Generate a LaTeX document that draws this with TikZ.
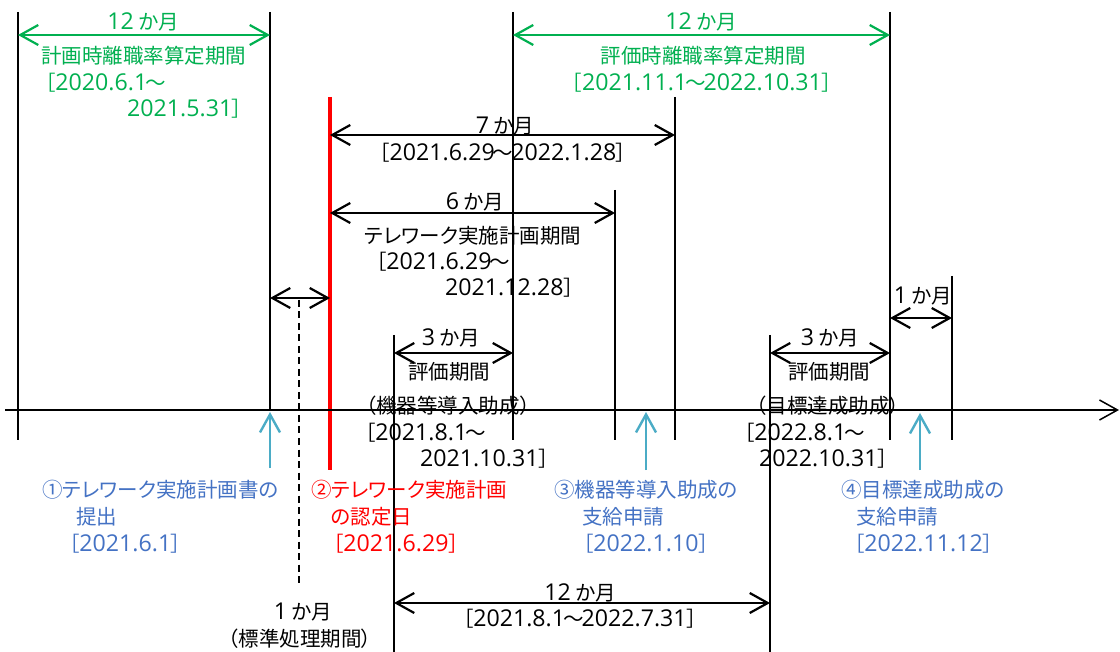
\documentclass[tikz,border=0pt]{standalone}
\usepackage{fontspec}
\setmainfont{Noto Sans CJK JP}[CharacterWidth=AlternateProportional]
\newfontfamily\dgfont{Open Sans}[Scale=1.13]
\newcommand\dgt[1]{{\dgfont #1}}
\newcommand\tld{\kern-2pt～\kern-2pt}
\usetikzlibrary{arrows.meta}
\definecolor{grn}{HTML}{00B050}
\definecolor{blu}{HTML}{4472C4}
\definecolor{tealarr}{HTML}{4BACC6}
\definecolor{rd}{HTML}{FF0000}
\begin{document}
\begin{tikzpicture}[x=1pt,y=-1pt,
  vline/.style={line width=1.8pt},
  barb/.tip={Straight Barb[length=18pt,width=20pt]},
  dbl/.style={line width=2.2pt,barb-barb},
  upar/.style={line width=2.4pt,tealarr,-barb},
  txt/.style={inner sep=0pt,font=\fontsize{20.5}{24}\selectfont},
  lt/.style={txt,anchor=west}]
\fill[white] (0,0) rectangle (1120,652);
\useasboundingbox (0,0) rectangle (1120,652);

% vertical lines
\coordinate (v0t) at (18,12);  \coordinate (v0b) at (18,440);
\coordinate (v1t) at (270,12); \coordinate (v1b) at (270,410);
\coordinate (v2t) at (513,12); \coordinate (v2b) at (513,440);
\coordinate (v3t) at (675,97); \coordinate (v3b) at (675,440);
\coordinate (v4t) at (615,190); \coordinate (v4b) at (615,440);
\coordinate (v5t) at (890,12); \coordinate (v5b) at (890,440);
\coordinate (v6t) at (952,276); \coordinate (v6b) at (952,440);
\coordinate (v7t) at (394,335); \coordinate (v7b) at (394,652);
\coordinate (v8t) at (770,335); \coordinate (v8b) at (770,652);
\coordinate (rt) at (330,97);  \coordinate (rb) at (330,470);
\coordinate (dt) at (299,300); \coordinate (db) at (299,587);

\draw[vline] (v0t) -- (v0b);
\draw[vline] (v1t) -- (v1b);
\draw[vline] (v2t) -- (v2b);
\draw[vline] (v3t) -- (v3b);
\draw[line width=2.3pt] (v4t) -- (v4b);
\draw[vline] (v5t) -- (v5b);
\draw[vline] (v6t) -- (v6b);
\draw[vline] (v7t) -- (v7b);
\draw[vline] (v8t) -- (v8b);
\draw[line width=3.3pt,rd] (rt) -- (rb);
\draw[line width=1.8pt,dash pattern=on 7pt off 4.5pt] (dt) -- (db);

% axis
\coordinate (ax0) at (5,410); \coordinate (ax1) at (1119,410);
\draw[line width=1.5pt,-barb] (ax0) -- (ax1);

% double arrows
\coordinate (g1a) at (18,35);  \coordinate (g1b) at (270,35);
\coordinate (g2a) at (513,35); \coordinate (g2b) at (890,35);
\coordinate (a7a) at (330,135); \coordinate (a7b) at (675,135);
\coordinate (a6a) at (330,213); \coordinate (a6b) at (615,213);
\coordinate (a1a) at (270,298); \coordinate (a1b) at (330,298);
\coordinate (a1ca) at (890,318); \coordinate (a1cb) at (952,318);
\coordinate (a3a) at (394,353); \coordinate (a3b) at (513,353);
\coordinate (a3ca) at (770,353); \coordinate (a3cb) at (890,353);
\coordinate (a12a) at (394,603); \coordinate (a12b) at (770,603);
\draw[dbl,grn] (g1a) -- (g1b);
\draw[dbl,grn] (g2a) -- (g2b);
\draw[dbl] (a7a) -- (a7b);
\draw[dbl] (a6a) -- (a6b);
\draw[dbl] (a1a) -- (a1b);
\draw[dbl] (a1ca) -- (a1cb);
\draw[dbl] (a3a) -- (a3b);
\draw[dbl] (a3ca) -- (a3cb);
\draw[dbl] (a12a) -- (a12b);

% teal up arrows
\coordinate (u1b) at (270,468); \coordinate (u1t) at (270,412);
\coordinate (u2b) at (646,470); \coordinate (u2t) at (646,412);
\coordinate (u3b) at (920,470); \coordinate (u3t) at (920,413);
\draw[upar] (u1b) -- (u1t);
\draw[upar] (u2b) -- (u2t);
\draw[upar] (u3b) -- (u3t);

% green texts
\node[txt,grn] (g12a) at (143,22) {\dgt{12} か月};
\node[txt,grn] (gt1) at (144,56) {計画時離職率算定期間};
\node[lt,grn] (gd1) at (45,83) {［\dgt{2020.6.1}\tld};
\node[lt,grn] (gd2) at (127,109) {\dgt{2021.5.31}］};
\node[txt,grn] (g12b) at (701,22) {\dgt{12} か月};
\node[txt,grn] (gt2) at (703,56) {評価時離職率算定期間};
\node[txt,grn] (gd3) at (702,83) {［\dgt{2021.11.1}\tld\dgt{2022.10.31}］};

% black texts
\node[txt] (m7) at (505,126) {\dgt{7} か月};
\node[txt] (d7) at (503,153) {［\dgt{2021.6.29}\tld\dgt{2022.1.28}］};
\node[txt] (m6) at (475,202) {\dgt{6} か月};
\node[txt] (t6) at (473,236) {テレワーク実施計画期間};
\node[lt] (d6a) at (376,262) {［\dgt{2021.6.29}\tld};
\node[lt] (d6b) at (445,288) {\dgt{2021.12.28}］};
\node[txt] (m1a) at (923,296) {\dgt{1} か月};
\node[txt] (m3a) at (451,338) {\dgt{3} か月};
\node[txt] (t3a) at (449,372) {評価期間};
\node[txt] (p3a) at (448,406) {（機器等導入助成）};
\node[lt] (e1a) at (365,433) {［\dgt{2021.8.1}\tld};
\node[lt] (e1b) at (420,459) {\dgt{2021.10.31}］};
\node[txt] (m3b) at (830,338) {\dgt{3} か月};
\node[txt] (t3b) at (829,372) {評価期間};
\node[txt] (p3b) at (828,406) {（目標達成助成）};
\node[lt] (e2a) at (744,433) {［\dgt{2022.8.1}\tld};
\node[lt] (e2b) at (759,459) {\dgt{2022.10.31}］};
\node[txt] (m12) at (580,593) {\dgt{12} か月};
\node[txt] (d12) at (580,619) {［\dgt{2021.8.1}\tld\dgt{2022.7.31}］};
\node[txt] (m1b) at (303,612) {\dgt{1} か月};
\node[txt] (s1) at (300,639) {（標準処理期間）};

% blue / red texts
\node[lt,blu] (b1a) at (42,490) {①テレワーク実施計画書の};
\node[lt,blu] (b1b) at (76,517) {提出};
\node[lt,blu] (b1c) at (69,544) {［\dgt{2021.6.1}］};
\node[lt,rd] (r1a) at (311,490) {②テレワーク実施計画};
\node[lt,rd] (r1b) at (331,517) {の認定日};
\node[lt,rd] (r1c) at (333,544) {［\dgt{2021.6.29}］};
\node[lt,blu] (b3a) at (554,490) {③機器等導入助成の};
\node[lt,blu] (b3b) at (582,517) {支給申請};
\node[lt,blu] (b3c) at (583,544) {［\dgt{2022.1.10}］};
\node[lt,blu] (b4a) at (841,490) {④目標達成助成の};
\node[lt,blu] (b4b) at (856,517) {支給申請};
\node[lt,blu] (b4c) at (854,544) {［\dgt{2022.11.12}］};
\end{tikzpicture}
\end{document}
